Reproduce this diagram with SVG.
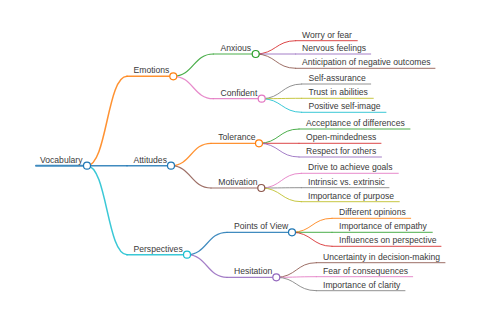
<svg xmlns="http://www.w3.org/2000/svg" width="480" height="320" viewBox="0 0 480 320">
<style>
text{font-family:"Liberation Sans",Arial,sans-serif;font-size:8.6px;fill:#3a3a3a}
path,line{fill:none;stroke-linecap:round;stroke-opacity:0.85}
.w0{stroke-width:2}.w1{stroke-width:1.5}.w2{stroke-width:1.2}.w3{stroke-width:1}
circle{fill:#fff;stroke-width:1.2}
.blue{stroke:#1f77b4}.orange{stroke:#ff7f0e}.green{stroke:#2ca02c}.red{stroke:#d62728}.purple{stroke:#9467bd}.brown{stroke:#8c564b}.pink{stroke:#e377c2}.gray{stroke:#7f7f7f}.olive{stroke:#bcbd22}.cyan{stroke:#17becf}
</style>
<rect width="480" height="320" fill="#fff"/>
<g id="connectors">
<path class="w1 orange" d="M87,165.7 C107,165.7 107,76.3 127,76.3"/>
<path class="w1 blue" d="M87,165.7 L127,165.7"/>
<path class="w1 cyan" d="M87,165.7 C107,165.7 107,254.7 127,254.7"/>
<path class="w2 green" d="M173.3,76.3 C193.3,76.3 193.3,54 213.3,54"/>
<path class="w2 pink" d="M173.3,76.3 C193.3,76.3 193.3,98.7 213.3,98.7"/>
<path class="w2 orange" d="M171,165.7 C191,165.7 191,143.3 211,143.3"/>
<path class="w2 brown" d="M171,165.7 C191,165.7 191,188 211,188"/>
<path class="w2 blue" d="M187,254.7 C207,254.7 207,232.3 227,232.3"/>
<path class="w2 purple" d="M187,254.7 C207,254.7 207,277.3 227,277.3"/>
<path class="w3 red" d="M255.7,54 C275.7,54 275.7,40.7 295.7,40.7"/>
<path class="w3 purple" d="M255.7,54 L295.7,54"/>
<path class="w3 brown" d="M255.7,54 C275.7,54 275.7,68.3 295.7,68.3"/>
<path class="w3 gray" d="M261.7,98.7 C281.7,98.7 281.7,84 301.7,84"/>
<path class="w3 olive" d="M261.7,98.7 C281.7,98.7 281.7,98.3 301.7,98.3"/>
<path class="w3 cyan" d="M261.7,98.7 C281.7,98.7 281.7,112.3 301.7,112.3"/>
<path class="w3 green" d="M259,143.3 C279,143.3 279,129 299,129"/>
<path class="w3 red" d="M259,143.3 L299,143.3"/>
<path class="w3 purple" d="M259,143.3 C279,143.3 279,157 299,157"/>
<path class="w3 pink" d="M261.3,188 C281.3,188 281.3,173.3 301.3,173.3"/>
<path class="w3 gray" d="M261.3,188 C281.3,188 281.3,187.7 301.3,187.7"/>
<path class="w3 olive" d="M261.3,188 C281.3,188 281.3,201.7 301.3,201.7"/>
<path class="w3 orange" d="M292,232.3 C312,232.3 312,218.3 332,218.3"/>
<path class="w3 green" d="M292,232.3 L332,232.3"/>
<path class="w3 red" d="M292,232.3 C312,232.3 312,246.3 332,246.3"/>
<path class="w3 brown" d="M276.3,277.3 C296.3,277.3 296.3,262.7 316.3,262.7"/>
<path class="w3 pink" d="M276.3,277.3 C296.3,277.3 296.3,276.7 316.3,276.7"/>
<path class="w3 gray" d="M276.3,277.3 C296.3,277.3 296.3,290.7 316.3,290.7"/>
</g>
<g id="vocabulary"><line class="w0 blue" x1="36" y1="165.7" x2="87" y2="165.7"/><circle class="blue" cx="87" cy="165.7" r="3.5"/><text x="40" y="162.5">Vocabulary</text></g>
<g id="emotions"><line class="w1 orange" x1="127" y1="76.3" x2="173.3" y2="76.3"/><circle class="orange" cx="173.3" cy="76.3" r="3.5"/><text x="133.5" y="73.2">Emotions</text></g>
<g id="attitudes"><line class="w1 blue" x1="127" y1="165.7" x2="171" y2="165.7"/><circle class="blue" cx="171" cy="165.7" r="3.5"/><text x="133.5" y="162.5">Attitudes</text></g>
<g id="perspectives"><line class="w1 cyan" x1="127" y1="254.7" x2="187" y2="254.7"/><circle class="cyan" cx="187" cy="254.7" r="3.5"/><text x="133.5" y="251.5">Perspectives</text></g>
<g id="anxious"><line class="w2 green" x1="213.3" y1="54" x2="255.7" y2="54"/><circle class="green" cx="255.7" cy="54" r="3.5"/><text x="220.5" y="50.9">Anxious</text></g>
<g id="confident"><line class="w2 pink" x1="213.3" y1="98.7" x2="261.7" y2="98.7"/><circle class="pink" cx="261.7" cy="98.7" r="3.5"/><text x="220.5" y="95.6">Confident</text></g>
<g id="tolerance"><line class="w2 orange" x1="211" y1="143.3" x2="259" y2="143.3"/><circle class="orange" cx="259" cy="143.3" r="3.5"/><text x="218.3" y="140.2">Tolerance</text></g>
<g id="motivation"><line class="w2 brown" x1="211" y1="188" x2="261.3" y2="188"/><circle class="brown" cx="261.3" cy="188" r="3.5"/><text x="218.3" y="184.9">Motivation</text></g>
<g id="points-of-view"><line class="w2 blue" x1="227" y1="232.3" x2="292" y2="232.3"/><circle class="blue" cx="292" cy="232.3" r="3.5"/><text x="234" y="229.2">Points of View</text></g>
<g id="hesitation"><line class="w2 purple" x1="227" y1="277.3" x2="276.3" y2="277.3"/><circle class="purple" cx="276.3" cy="277.3" r="3.5"/><text x="234" y="274.2">Hesitation</text></g>
<g id="worry"><line class="w3 red" x1="295.7" y1="40.7" x2="357.3" y2="40.7"/><text x="302" y="37.6">Worry or fear</text></g>
<g id="nervous"><line class="w3 purple" x1="295.7" y1="54" x2="370.7" y2="54"/><text x="302" y="50.9">Nervous feelings</text></g>
<g id="anticipation"><line class="w3 brown" x1="295.7" y1="68.3" x2="435" y2="68.3"/><text x="302" y="65.2">Anticipation of negative outcomes</text></g>
<g id="self-assurance"><line class="w3 gray" x1="301.7" y1="84" x2="370.7" y2="84"/><text x="308.5" y="80.9">Self-assurance</text></g>
<g id="trust"><line class="w3 olive" x1="301.7" y1="98.3" x2="373.3" y2="98.3"/><text x="308.5" y="95.2">Trust in abilities</text></g>
<g id="positive"><line class="w3 cyan" x1="301.7" y1="112.3" x2="386" y2="112.3"/><text x="308.5" y="109.2">Positive self-image</text></g>
<g id="acceptance"><line class="w3 green" x1="299" y1="129" x2="410" y2="129"/><text x="306" y="125.9">Acceptance of differences</text></g>
<g id="open-mindedness"><line class="w3 red" x1="299" y1="143.3" x2="381" y2="143.3"/><text x="306" y="140.2">Open-mindedness</text></g>
<g id="respect"><line class="w3 purple" x1="299" y1="157" x2="381.5" y2="157"/><text x="306" y="153.9">Respect for others</text></g>
<g id="drive"><line class="w3 pink" x1="301.3" y1="173.3" x2="398.3" y2="173.3"/><text x="308" y="170.2">Drive to achieve goals</text></g>
<g id="intrinsic"><line class="w3 gray" x1="301.3" y1="187.7" x2="389" y2="187.7"/><text x="308" y="184.6">Intrinsic vs. extrinsic</text></g>
<g id="purpose"><line class="w3 olive" x1="301.3" y1="201.7" x2="399.3" y2="201.7"/><text x="308" y="198.6">Importance of purpose</text></g>
<g id="different"><line class="w3 orange" x1="332" y1="218.3" x2="410.7" y2="218.3"/><text x="339" y="215.2">Different opinions</text></g>
<g id="empathy"><line class="w3 green" x1="332" y1="232.3" x2="432.3" y2="232.3"/><text x="339" y="229.2">Importance of empathy</text></g>
<g id="influences"><line class="w3 red" x1="332" y1="246.3" x2="441" y2="246.3"/><text x="339" y="243.2">Influences on perspective</text></g>
<g id="uncertainty"><line class="w3 brown" x1="316.3" y1="262.7" x2="445" y2="262.7"/><text x="323" y="259.6">Uncertainty in decision-making</text></g>
<g id="fear"><line class="w3 pink" x1="316.3" y1="276.7" x2="412.7" y2="276.7"/><text x="323" y="273.6">Fear of consequences</text></g>
<g id="clarity"><line class="w3 gray" x1="316.3" y1="290.7" x2="405" y2="290.7"/><text x="323" y="287.6">Importance of clarity</text></g>
</svg>
